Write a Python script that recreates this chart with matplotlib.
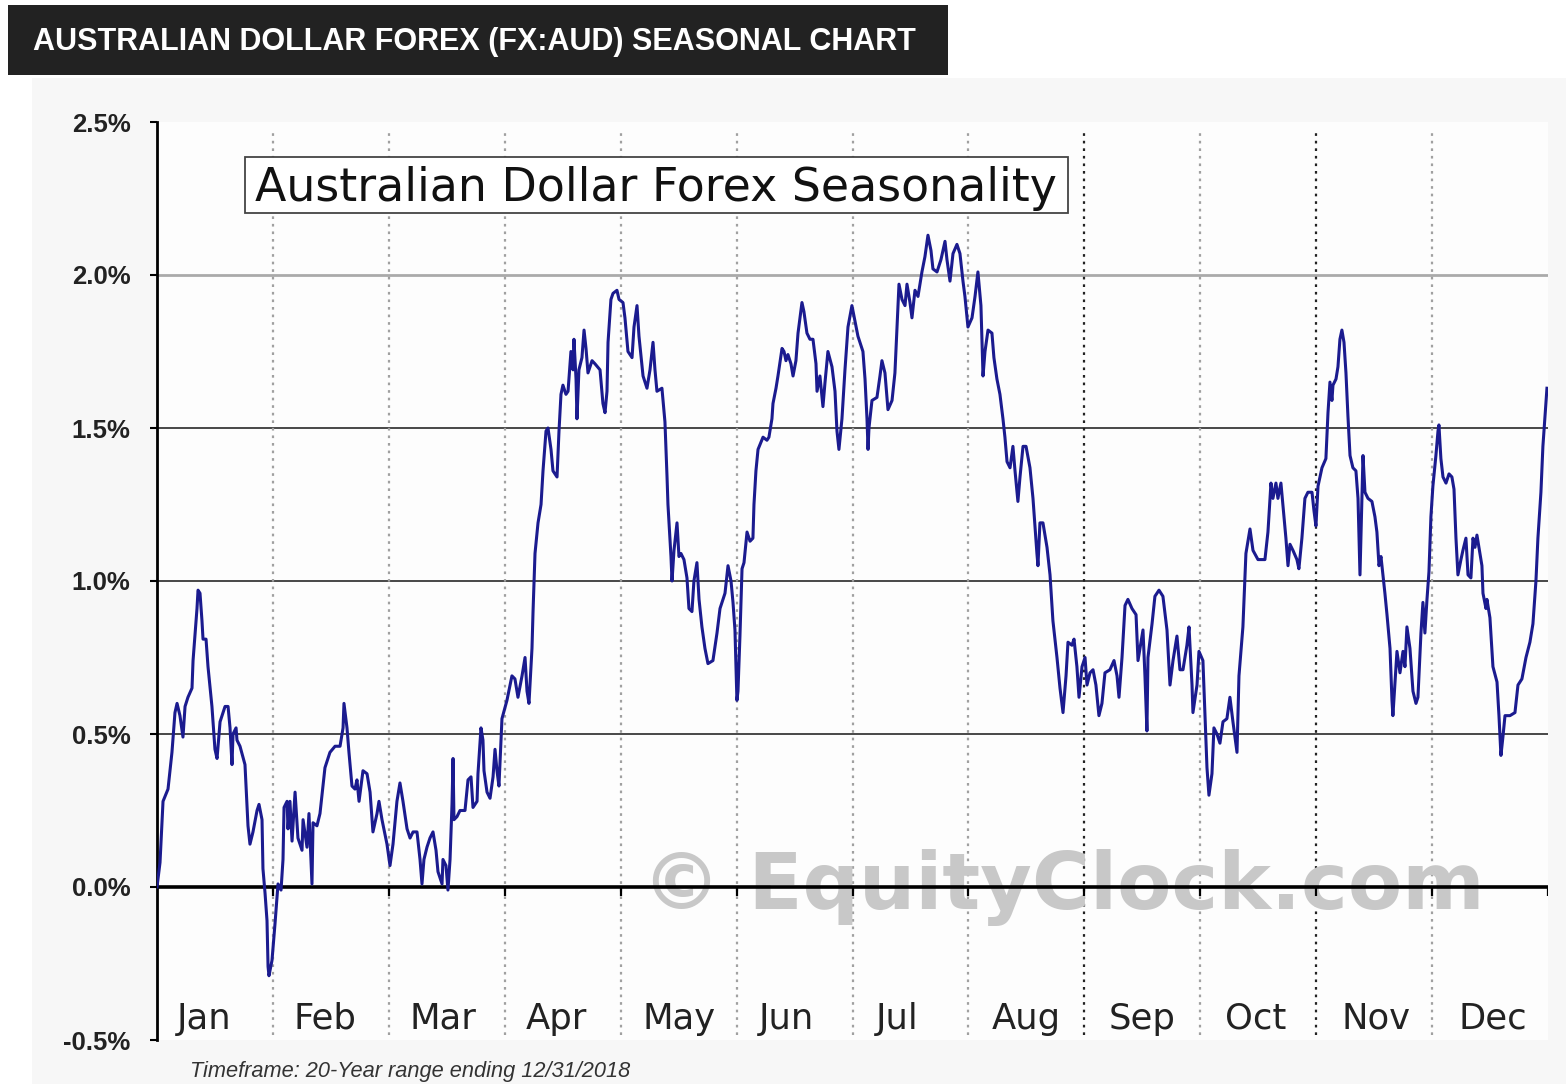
import matplotlib
matplotlib.use("Agg")
import matplotlib.pyplot as plt
from matplotlib.patches import Rectangle

# Average seasonal path (x in months from Jan 1, y in %)
month_pos = [
    0.000, 0.026, 0.043, 0.052, 0.095, 0.129, 0.155, 0.173, 0.198, 0.224, 0.242, 0.267,
    0.302, 0.311, 0.345, 0.354, 0.371, 0.388, 0.397, 0.423, 0.440, 0.474, 0.500, 0.518,
    0.544, 0.587, 0.613, 0.630, 0.647, 0.656, 0.682, 0.690, 0.716, 0.759, 0.785, 0.802,
    0.828, 0.863, 0.880, 0.906, 0.914, 0.932, 0.949, 0.958, 0.966, 0.992, 1.018, 1.044,
    1.070, 1.087, 1.096, 1.122, 1.130, 1.147, 1.165, 1.191, 1.216, 1.251, 1.260, 1.294,
    1.311, 1.337, 1.346, 1.380, 1.406, 1.449, 1.492, 1.536, 1.579, 1.605, 1.613, 1.639,
    1.656, 1.682, 1.708, 1.725, 1.743, 1.777, 1.812, 1.838, 1.863, 1.898, 1.915, 1.941,
    1.984, 2.010, 2.036, 2.070, 2.096, 2.122, 2.157, 2.183, 2.209, 2.243, 2.269, 2.286,
    2.303, 2.329, 2.355, 2.381, 2.407, 2.424, 2.459, 2.467, 2.493, 2.510, 2.528, 2.545,
    2.554, 2.562, 2.588, 2.614, 2.657, 2.683, 2.709, 2.726, 2.761, 2.769, 2.795, 2.812,
    2.821, 2.847, 2.873, 2.899, 2.916, 2.933, 2.950,
    2.976, 3.019, 3.062, 3.088, 3.114, 3.149, 3.175, 3.192, 3.209, 3.235, 3.244, 3.261,
    3.287, 3.313, 3.330, 3.356, 3.373, 3.399, 3.416, 3.451, 3.468, 3.485, 3.502, 3.528,
    3.546, 3.571, 3.589, 3.597, 3.615, 3.623, 3.640, 3.666, 3.684, 3.701, 3.718, 3.753,
    3.778, 3.822, 3.847, 3.865, 3.882, 3.891, 3.916, 3.934, 3.968, 3.986, 4.020, 4.037,
    4.063, 4.098, 4.115, 4.141, 4.158, 4.193, 4.227, 4.253, 4.279, 4.296, 4.313, 4.356,
    4.382, 4.400, 4.408, 4.434, 4.443, 4.460, 4.486, 4.503, 4.520, 4.546, 4.572, 4.589,
    4.615, 4.632, 4.658, 4.676, 4.701, 4.727, 4.753, 4.796, 4.831, 4.857, 4.900, 4.926,
    4.952, 4.969, 4.986, 5.003, 5.012, 5.029, 5.047, 5.064, 5.090, 5.116, 5.141, 5.150,
    5.167, 5.185, 5.228, 5.262, 5.279, 5.305, 5.314, 5.340, 5.357, 5.392, 5.409, 5.426,
    5.443, 5.469, 5.487, 5.512, 5.530, 5.564, 5.581, 5.607, 5.633, 5.659, 5.685, 5.694,
    5.719, 5.737, 5.745, 5.763, 5.788, 5.823, 5.849, 5.866, 5.883, 5.909, 5.935, 5.961,
    5.995, 6.021, 6.047, 6.090, 6.108, 6.125, 6.134, 6.142, 6.168, 6.211, 6.237,
    6.254, 6.280, 6.306, 6.341, 6.366, 6.384, 6.401, 6.427, 6.453, 6.470, 6.496, 6.513,
    6.539, 6.565, 6.599, 6.625, 6.651, 6.677, 6.694, 6.729, 6.763, 6.798, 6.815, 6.841,
    6.867, 6.901, 6.927, 6.953, 6.970, 6.996, 7.031, 7.057, 7.082, 7.108, 7.126, 7.143,
    7.169, 7.203, 7.220, 7.246, 7.272, 7.298, 7.315, 7.333, 7.359, 7.384, 7.402, 7.427,
    7.445, 7.471, 7.497, 7.531, 7.557, 7.591, 7.600, 7.617, 7.643, 7.678, 7.704, 7.729,
    7.764, 7.790, 7.816, 7.842, 7.859, 7.893, 7.911, 7.936, 7.954, 7.980, 8.006, 8.023,
    8.049, 8.075, 8.100, 8.126, 8.152, 8.178, 8.221, 8.256, 8.282, 8.299, 8.325, 8.351,
    8.376, 8.411, 8.446, 8.463, 8.489, 8.506, 8.523, 8.540, 8.549, 8.584, 8.609, 8.644,
    8.678, 8.713, 8.739, 8.765, 8.799, 8.825, 8.851, 8.885, 8.903, 8.929, 8.937, 8.972,
    8.989, 9.023, 9.041, 9.058, 9.075, 9.101, 9.118, 9.144, 9.170, 9.196, 9.230, 9.256,
    9.282, 9.317, 9.334, 9.368, 9.394, 9.429,
    9.455, 9.498, 9.558, 9.584, 9.610, 9.627, 9.653, 9.670, 9.696, 9.713, 9.739, 9.757,
    9.774, 9.800, 9.834, 9.851, 9.877, 9.903, 9.929, 9.964, 9.981, 9.998, 10.016, 10.050,
    10.084, 10.102, 10.119, 10.136, 10.145, 10.171, 10.188, 10.205, 10.222, 10.240, 10.257, 10.274,
    10.292, 10.317, 10.343, 10.361, 10.378, 10.395, 10.404, 10.421, 10.447, 10.481, 10.507, 10.524,
    10.542, 10.559, 10.576, 10.593, 10.611, 10.637, 10.654, 10.662, 10.680, 10.697, 10.723, 10.749,
    10.766, 10.783, 10.809, 10.835, 10.861, 10.878, 10.904, 10.921, 10.938, 10.956, 10.973, 10.990,
    11.007, 11.033, 11.051, 11.059, 11.076, 11.094, 11.120, 11.146, 11.171, 11.189, 11.206, 11.223,
    11.249, 11.266, 11.292, 11.310, 11.335, 11.353, 11.370, 11.387, 11.404, 11.430, 11.439, 11.465,
    11.473, 11.499, 11.525, 11.560, 11.577, 11.594, 11.611, 11.629, 11.672, 11.715, 11.741, 11.775,
    11.810, 11.844, 11.870, 11.896, 11.913, 11.939, 11.956, 11.974, 11.991,
]

seasonal_pct = [
    0.00, 0.08, 0.21, 0.28, 0.32, 0.44, 0.57, 0.60, 0.56, 0.49, 0.59, 0.62,
    0.65, 0.74, 0.91, 0.97, 0.96, 0.87, 0.81, 0.81, 0.72, 0.59, 0.45, 0.42,
    0.54, 0.59, 0.59, 0.52, 0.40, 0.50, 0.52, 0.48, 0.46, 0.40, 0.20, 0.14,
    0.18, 0.25, 0.27, 0.22, 0.06, -0.02, -0.11, -0.26, -0.29, -0.24, -0.12, 0.01,
    -0.01, 0.09, 0.26, 0.28, 0.19, 0.28, 0.15, 0.31, 0.16, 0.12, 0.22, 0.13,
    0.24, 0.01, 0.21, 0.20, 0.24, 0.39, 0.44, 0.46, 0.46, 0.52, 0.60, 0.52,
    0.44, 0.33, 0.32, 0.35, 0.28, 0.38, 0.37, 0.31, 0.18, 0.24, 0.28, 0.22,
    0.14, 0.07, 0.14, 0.28, 0.34, 0.28, 0.19, 0.16, 0.18, 0.18, 0.09, 0.01,
    0.09, 0.13, 0.16, 0.18, 0.12, 0.05, 0.01, 0.09, 0.07, -0.01, 0.09, 0.27,
    0.42, 0.22, 0.23, 0.25, 0.25, 0.35, 0.36, 0.26, 0.28, 0.37, 0.52, 0.48,
    0.38, 0.31, 0.29, 0.36, 0.45, 0.38, 0.33,
    0.55, 0.61, 0.69, 0.68, 0.62, 0.69, 0.75, 0.64, 0.60, 0.78, 0.90, 1.09,
    1.19, 1.25, 1.36, 1.49, 1.50, 1.43, 1.36, 1.34, 1.49, 1.61, 1.64, 1.61,
    1.62, 1.75, 1.69, 1.79, 1.66, 1.53, 1.69, 1.73, 1.82, 1.76, 1.68, 1.72,
    1.71, 1.69, 1.58, 1.55, 1.62, 1.78, 1.92, 1.94, 1.95, 1.92, 1.91, 1.86,
    1.75, 1.73, 1.83, 1.90, 1.80, 1.67, 1.63, 1.69, 1.78, 1.69, 1.62, 1.63,
    1.52, 1.34, 1.25, 1.08, 1.00, 1.10, 1.19, 1.08, 1.09, 1.07, 1.01, 0.91,
    0.90, 1.00, 1.06, 0.94, 0.85, 0.78, 0.73, 0.74, 0.83, 0.91, 0.96, 1.05,
    1.00, 0.93, 0.84, 0.61, 0.64, 0.82, 1.04, 1.06, 1.16, 1.13, 1.14, 1.25,
    1.36, 1.43, 1.47, 1.46, 1.47, 1.53, 1.58, 1.63, 1.67, 1.76, 1.75, 1.72,
    1.74, 1.71, 1.67, 1.72, 1.81, 1.91, 1.88, 1.81, 1.79, 1.79, 1.71, 1.62,
    1.67, 1.60, 1.57, 1.65, 1.75, 1.70, 1.62, 1.49, 1.43, 1.53, 1.69, 1.83,
    1.90, 1.85, 1.80, 1.75, 1.66, 1.53, 1.43, 1.50, 1.59, 1.60, 1.67,
    1.72, 1.68, 1.56, 1.59, 1.68, 1.83, 1.97, 1.92, 1.90, 1.97, 1.91, 1.86,
    1.95, 1.93, 2.01, 2.06, 2.13, 2.08, 2.02, 2.01, 2.05, 2.11, 2.05, 1.98,
    2.07, 2.10, 2.07, 1.98, 1.93, 1.83, 1.86, 1.93, 2.01, 1.90, 1.67, 1.75,
    1.82, 1.81, 1.73, 1.66, 1.61, 1.53, 1.47, 1.39, 1.37, 1.44, 1.36, 1.26,
    1.34, 1.44, 1.44, 1.37, 1.27, 1.09, 1.05, 1.19, 1.19, 1.11, 1.02, 0.87,
    0.75, 0.65, 0.57, 0.69, 0.80, 0.79, 0.81, 0.72, 0.62, 0.72, 0.75, 0.66,
    0.70, 0.71, 0.66, 0.56, 0.60, 0.70, 0.71, 0.74, 0.69, 0.62, 0.75, 0.92,
    0.94, 0.91, 0.89, 0.74, 0.80, 0.84, 0.69, 0.51, 0.75, 0.86, 0.95, 0.97,
    0.95, 0.84, 0.66, 0.74, 0.82, 0.71, 0.71, 0.79, 0.85, 0.66, 0.57, 0.66,
    0.77, 0.74, 0.56, 0.39, 0.30, 0.37, 0.52, 0.50, 0.47, 0.54, 0.55, 0.62,
    0.54, 0.44, 0.69, 0.85, 1.09, 1.17,
    1.10, 1.07, 1.07, 1.16, 1.32, 1.27, 1.32, 1.27, 1.32, 1.25, 1.14, 1.05,
    1.12, 1.10, 1.07, 1.04, 1.14, 1.27, 1.29, 1.29, 1.23, 1.18, 1.31, 1.37,
    1.40, 1.55, 1.65, 1.59, 1.64, 1.66, 1.70, 1.79, 1.82, 1.78, 1.68, 1.54,
    1.41, 1.37, 1.36, 1.27, 1.02, 1.27, 1.41, 1.29, 1.27, 1.26, 1.21, 1.16,
    1.05, 1.08, 1.02, 0.96, 0.89, 0.78, 0.61, 0.56, 0.67, 0.77, 0.70, 0.77,
    0.72, 0.85, 0.78, 0.64, 0.60, 0.62, 0.83, 0.93, 0.83, 0.94, 1.03, 1.21,
    1.31, 1.41, 1.49, 1.51, 1.40, 1.34, 1.32, 1.35, 1.34, 1.30, 1.14, 1.02,
    1.07, 1.10, 1.14, 1.02, 1.01, 1.14, 1.11, 1.15, 1.11, 1.05, 0.96, 0.91,
    0.94, 0.88, 0.72, 0.67, 0.56, 0.43, 0.49, 0.56, 0.56, 0.57, 0.66, 0.68,
    0.75, 0.80, 0.86, 1.00, 1.14, 1.29, 1.44, 1.54, 1.63,
]

month_labels = ["Jan", "Feb", "Mar", "Apr", "May", "Jun",
                "Jul", "Aug", "Sep", "Oct", "Nov", "Dec"]
y_ticks = [-0.5, 0.0, 0.5, 1.0, 1.5, 2.0, 2.5]

W, H = 1566, 1084
fig = plt.figure(figsize=(W / 100, H / 100), dpi=100, facecolor="white")

# light panel behind the chart and the dark header bar
fig.patches.append(Rectangle((32 / W, 0), 1, 1 - 78 / H, transform=fig.transFigure,
                             facecolor="#f7f7f7", edgecolor="none", zorder=-2))
fig.patches.append(Rectangle((8 / W, 1 - 75 / H), 940 / W, 70 / H, transform=fig.transFigure,
                             facecolor="#222222", edgecolor="none", zorder=-1))
fig.text(33 / W, 1 - 42 / H, "AUSTRALIAN DOLLAR FOREX (FX:AUD) SEASONAL CHART",
         color="white", fontsize=22, fontweight="bold", va="center", ha="left",
         family=["Liberation Sans", "DejaVu Sans"])

ax = fig.add_axes([157 / W, 1 - 1040 / H, (1548 - 157) / W, (1040 - 122) / H])
ax.set_zorder(2)
ax.set_facecolor("#fdfdfd")
ax.set_xlim(0, 12)
ax.set_ylim(-0.5, 2.5)

# horizontal grid
for yv in [0.5, 1.0, 1.5]:
    ax.axhline(yv, color="#3a3a3a", lw=1.3, zorder=1)
ax.axhline(2.0, color="#aaaaaa", lw=2, zorder=1)

# month separators (dotted)
for m in range(1, 12):
    col = "#222222" if m in (8, 10) else "#a0a0a0"
    ax.axvline(m, ymin=0.005, ymax=0.99, color=col, lw=1.6,
               linestyle=(0, (1.2, 2.2)), zorder=1)

# zero line with small month ticks
ax.axhline(0, color="black", lw=2.6, zorder=4)
ax.vlines(range(1, 13), -0.03, 0, colors="black", lw=1.6, zorder=4)

# watermark
ax.text(7.82, 0.0, "\u00a9 EquityClock.com", fontsize=57, fontweight="bold",
        color="#c8c8c8", ha="center", va="center", zorder=2)

ax.plot(month_pos, seasonal_pct, color="#1b1b8f", lw=2.2, zorder=5)

for i, lab in enumerate(month_labels):
    ax.text(i + 0.17 + 0.005 * i, -0.43, lab, fontsize=25.5, color="#222222",
            ha="left", va="center", zorder=3)

ax.set_xticks([])
ax.set_yticks(y_ticks)
ax.set_yticklabels([f"{v:.1f}%" for v in y_ticks], fontsize=18.5, fontweight="bold",
                   family=["Liberation Sans", "DejaVu Sans"], color="#222222")
ax.tick_params(axis="y", direction="out", length=5, width=1.5, pad=14)
for s in ["top", "right", "bottom"]:
    ax.spines[s].set_visible(False)
ax.spines["left"].set_linewidth(2)

# inner title box
ax.add_patch(Rectangle((0.0633, 0.9009), 0.5917, 0.0610, transform=ax.transAxes,
                       facecolor="white", edgecolor="#444444", lw=1.3, zorder=6))
ax.text(0.359, 0.928, "Australian Dollar Forex Seasonality", fontsize=33,
        transform=ax.transAxes, ha="center", va="center", color="#111111", zorder=7)

fig.text(190 / W, 1 - 1072 / H, "Timeframe: 20-Year range ending 12/31/2018",
         fontsize=15.7, style="italic", color="#333333", ha="left", va="center",
         family=["Liberation Sans", "DejaVu Sans"])

fig.savefig("out.png", dpi=100, facecolor=fig.get_facecolor())
